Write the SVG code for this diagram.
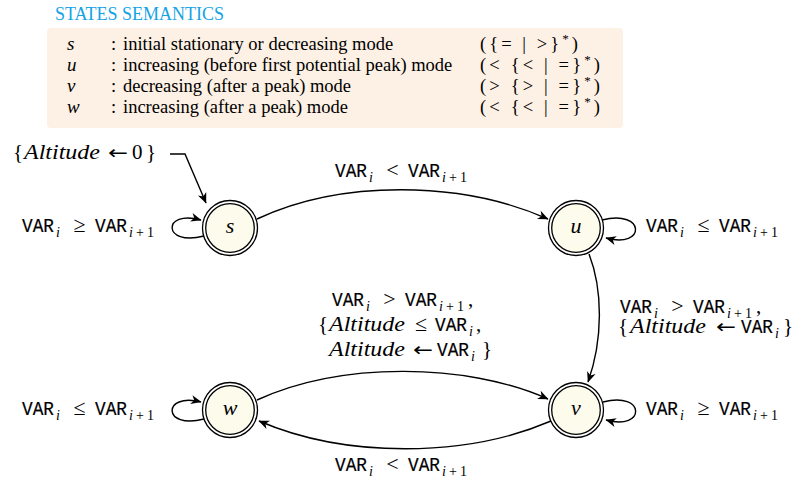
<svg xmlns="http://www.w3.org/2000/svg" width="801" height="481" viewBox="0 0 801 481">
<style>
.title{font-family:"Liberation Serif",serif;font-size:18px;fill:#13a3e6}
.lg{font-family:"Liberation Serif",serif;font-size:18.5px;fill:#000}
.lgi{font-family:"Liberation Serif",serif;font-style:italic;font-size:19px;fill:#000}
.mono{font-family:"Liberation Mono",monospace;font-size:20px;fill:#000;stroke:#000;stroke-width:0.2}
.it{font-family:"Liberation Serif",serif;font-style:italic;font-size:21px;fill:#000}
.sub{font-family:"Liberation Serif",serif;font-style:italic;font-size:14px;fill:#000}
.rm{font-family:"Liberation Serif",serif;font-size:21px;fill:#000}
.op{font-family:"Liberation Serif",serif;font-size:22px;fill:#000}
.arw{font-family:"DejaVu Sans",sans-serif;font-size:19px;fill:#000}
.edge{fill:none;stroke:#000;stroke-width:1.4;marker-end:url(#arr)}
.ring{fill:#fff;stroke:#000;stroke-width:1.3}
.core{fill:#fcfbec;stroke:#000;stroke-width:1.3}
.nl{font-family:"Liberation Serif",serif;font-style:italic;font-size:22px;fill:#000;text-anchor:middle}
</style>
<defs>
<marker id="arr" viewBox="-11 -5 12 10" refX="0" refY="0" markerWidth="12" markerHeight="10" markerUnits="userSpaceOnUse" orient="auto">
<path d="M0.5,0 L-10,-4.5 L-7,0 L-10,4.5 Z" fill="#000"/>
</marker>
</defs>

<g id="legend">
<text class="title" x="55" y="20">STATES SEMANTICS</text>
<rect x="47" y="28" width="576" height="100" rx="4" fill="#fdf0e4"/>
<text class="lgi" x="67" y="50">s</text><text class="lg" x="111" y="50">:</text><text class="lg" x="123" y="50">initial stationary or decreasing mode</text>
<text class="lg" x="480" y="50" textLength="98" lengthAdjust="spacing">({= | &gt;}<tspan dy="-7" font-size="13">*</tspan><tspan dy="7">)</tspan></text>
<text class="lgi" x="67" y="71">u</text><text class="lg" x="111" y="71">:</text><text class="lg" x="123" y="71">increasing (before first potential peak) mode</text>
<text class="lg" x="480" y="71" textLength="120" lengthAdjust="spacing">(&lt; {&lt; | =}<tspan dy="-7" font-size="13">*</tspan><tspan dy="7">)</tspan></text>
<text class="lgi" x="67" y="92">v</text><text class="lg" x="111" y="92">:</text><text class="lg" x="123" y="92">decreasing (after a peak) mode</text>
<text class="lg" x="480" y="92" textLength="120" lengthAdjust="spacing">(&gt; {&gt; | =}<tspan dy="-7" font-size="13">*</tspan><tspan dy="7">)</tspan></text>
<text class="lgi" x="67" y="113">w</text><text class="lg" x="111" y="113">:</text><text class="lg" x="123" y="113">increasing (after a peak) mode</text>
<text class="lg" x="480" y="113" textLength="120" lengthAdjust="spacing">(&lt; {&lt; | =}<tspan dy="-7" font-size="13">*</tspan><tspan dy="7">)</tspan></text>
</g>

<g id="connectors">
<path class="edge" d="M170,154 L185,154 L206,203"/>
<path class="edge" d="M204,236 C162,247 162,209 201,220"/>
<path class="edge" d="M257,219 C340,180 460,180 548,219"/>
<path class="edge" d="M602,220 C646,209 646,249 606,238"/>
<path class="edge" d="M589,254 C603,290 603,340 588,382"/>
<path class="edge" d="M257,400 C340,362 465,362 548,399"/>
<path class="edge" d="M551,421 C465,458 345,458 259,421"/>
<path class="edge" d="M204,419 C162,430 162,392 201,402"/>
<path class="edge" d="M603,402 C646,391 646,431 606,420"/>
</g>

<g id="node-s"><circle class="ring" cx="230" cy="228" r="27.5"/><circle class="core" cx="230" cy="228" r="24.3"/><text class="nl" x="230" y="233">s</text></g>
<g id="node-u"><circle class="ring" cx="576" cy="228" r="27.5"/><circle class="core" cx="576" cy="228" r="24.3"/><text class="nl" x="576" y="233">u</text></g>
<g id="node-w"><circle class="ring" cx="230" cy="410" r="27.5"/><circle class="core" cx="230" cy="410" r="24.3"/><text class="nl" x="230" y="415">w</text></g>
<g id="node-v"><circle class="ring" cx="576" cy="410" r="27.5"/><circle class="core" cx="576" cy="410" r="24.3"/><text class="nl" x="576" y="415">v</text></g>

<g id="labels">
<!-- initial -->
<text class="rm" x="13" y="159">{</text>
<text class="it" x="24" y="159" textLength="76" lengthAdjust="spacingAndGlyphs">Altitude</text>
<text class="arw" x="108" y="159" textLength="20" lengthAdjust="spacingAndGlyphs">←</text>
<text class="rm" x="132" y="159">0</text>
<text class="rm" x="146" y="159">}</text>

<!-- A: s loop -->
<text class="mono" x="22" y="232" textLength="32" lengthAdjust="spacingAndGlyphs">VAR</text>
<text class="sub" x="56" y="236.5">i</text>
<text class="op" x="79.5" y="232" text-anchor="middle">≥</text>
<text class="mono" x="95" y="232" textLength="32" lengthAdjust="spacingAndGlyphs">VAR</text>
<text class="sub" x="129" y="236.5" textLength="25" lengthAdjust="spacing">i<tspan font-style="normal">+1</tspan></text>

<!-- C: u loop -->
<text class="mono" x="646" y="232" textLength="32" lengthAdjust="spacingAndGlyphs">VAR</text>
<text class="sub" x="680" y="236.5">i</text>
<text class="op" x="703.5" y="232" text-anchor="middle">≤</text>
<text class="mono" x="719" y="232" textLength="32" lengthAdjust="spacingAndGlyphs">VAR</text>
<text class="sub" x="753" y="236.5" textLength="25" lengthAdjust="spacing">i<tspan font-style="normal">+1</tspan></text>

<!-- B: s to u -->
<text class="mono" x="335" y="177" textLength="32" lengthAdjust="spacingAndGlyphs">VAR</text>
<text class="sub" x="369" y="181.5">i</text>
<text class="op" x="392.5" y="177" text-anchor="middle">&lt;</text>
<text class="mono" x="408" y="177" textLength="32" lengthAdjust="spacingAndGlyphs">VAR</text>
<text class="sub" x="442" y="181.5" textLength="25" lengthAdjust="spacing">i<tspan font-style="normal">+1</tspan></text>

<!-- D: w loop -->
<text class="mono" x="22" y="415" textLength="32" lengthAdjust="spacingAndGlyphs">VAR</text>
<text class="sub" x="56" y="419.5">i</text>
<text class="op" x="79.5" y="415" text-anchor="middle">≤</text>
<text class="mono" x="95" y="415" textLength="32" lengthAdjust="spacingAndGlyphs">VAR</text>
<text class="sub" x="129" y="419.5" textLength="25" lengthAdjust="spacing">i<tspan font-style="normal">+1</tspan></text>

<!-- E: v loop -->
<text class="mono" x="646" y="415" textLength="32" lengthAdjust="spacingAndGlyphs">VAR</text>
<text class="sub" x="680" y="419.5">i</text>
<text class="op" x="703.5" y="415" text-anchor="middle">≥</text>
<text class="mono" x="719" y="415" textLength="32" lengthAdjust="spacingAndGlyphs">VAR</text>
<text class="sub" x="753" y="419.5" textLength="25" lengthAdjust="spacing">i<tspan font-style="normal">+1</tspan></text>

<!-- F: v to w -->
<text class="mono" x="335" y="471" textLength="32" lengthAdjust="spacingAndGlyphs">VAR</text>
<text class="sub" x="369" y="475.5">i</text>
<text class="op" x="392.5" y="471" text-anchor="middle">&lt;</text>
<text class="mono" x="408" y="471" textLength="32" lengthAdjust="spacingAndGlyphs">VAR</text>
<text class="sub" x="442" y="475.5" textLength="25" lengthAdjust="spacing">i<tspan font-style="normal">+1</tspan></text>

<!-- G: w to v -->
<text class="mono" x="332" y="306" textLength="32" lengthAdjust="spacingAndGlyphs">VAR</text>
<text class="sub" x="366" y="310.5">i</text>
<text class="op" x="389.5" y="306" text-anchor="middle">&gt;</text>
<text class="mono" x="405" y="306" textLength="32" lengthAdjust="spacingAndGlyphs">VAR</text>
<text class="sub" x="439" y="310.5" textLength="25" lengthAdjust="spacing">i<tspan font-style="normal">+1</tspan></text>
<text class="rm" x="468" y="306">,</text>
<text class="rm" x="318" y="331">{</text>
<text class="it" x="329" y="331" textLength="76" lengthAdjust="spacingAndGlyphs">Altitude</text>
<text class="op" x="421" y="331" text-anchor="middle">≤</text>
<text class="mono" x="435" y="331" textLength="32" lengthAdjust="spacingAndGlyphs">VAR</text>
<text class="sub" x="469" y="335.5">i</text>
<text class="rm" x="476" y="331">,</text>
<text class="it" x="329" y="356" textLength="76" lengthAdjust="spacingAndGlyphs">Altitude</text>
<text class="arw" x="413" y="356" textLength="20" lengthAdjust="spacingAndGlyphs">←</text>
<text class="mono" x="437" y="356" textLength="32" lengthAdjust="spacingAndGlyphs">VAR</text>
<text class="sub" x="471" y="360.5">i</text>
<text class="rm" x="482" y="356">}</text>

<!-- H: u to v -->
<text class="mono" x="620" y="313" textLength="32" lengthAdjust="spacingAndGlyphs">VAR</text>
<text class="sub" x="654" y="317.5">i</text>
<text class="op" x="677.5" y="313" text-anchor="middle">&gt;</text>
<text class="mono" x="693" y="313" textLength="32" lengthAdjust="spacingAndGlyphs">VAR</text>
<text class="sub" x="727" y="317.5" textLength="25" lengthAdjust="spacing">i<tspan font-style="normal">+1</tspan></text>
<text class="rm" x="756" y="313">,</text>
<text class="rm" x="618" y="333">{</text>
<text class="it" x="630" y="333" textLength="76" lengthAdjust="spacingAndGlyphs">Altitude</text>
<text class="arw" x="716" y="333" textLength="20" lengthAdjust="spacingAndGlyphs">←</text>
<text class="mono" x="741" y="333" textLength="32" lengthAdjust="spacingAndGlyphs">VAR</text>
<text class="sub" x="775" y="337.5">i</text>
<text class="rm" x="783" y="333">}</text>
</g>
</svg>
